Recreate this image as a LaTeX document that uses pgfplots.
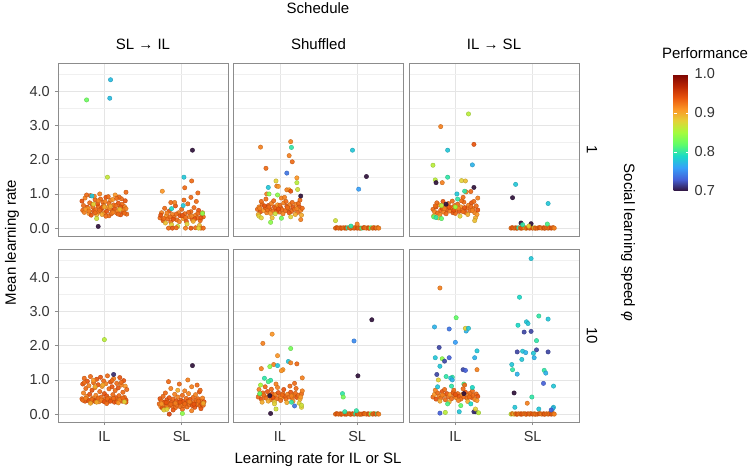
\documentclass[border=0pt]{standalone}
\usepackage{pgfplots}
\pgfplotsset{compat=1.18}
\usepackage{fontspec}
\setmainfont{Liberation Sans}
\pgfplotsset{
  colormap={turbo}{rgb255=(48,18,59) rgb255=(69,97,216) rgb255=(55,160,250) rgb255=(26,218,199) rgb255=(96,253,103) rgb255=(164,252,60) rgb255=(228,210,55) rgb255=(252,150,38) rgb255=(232,84,13) rgb255=(184,36,3) rgb255=(122,4,3)},
  panel/.style={
    scale only axis, width=170pt, height=173pt, anchor=south west,
    xmin=0.4, xmax=2.6, ymin=-0.23, ymax=4.83,
    xtick={1,2}, xticklabels={IL,SL},
    ytick={0,1,2,3,4}, yticklabels={0.0,1.0,2.0,3.0,4.0},
    minor ytick={0.5,1.5,2.5,3.5,4.5},
    grid=both,
    major grid style={draw=black!10, line width=0.6pt},
    minor grid style={draw=black!6, line width=0.35pt},
    axis line style={draw=black!45, line width=0.6pt},
    tick align=outside, major tick length=3pt, minor tick length=0pt,
    tick pos=left,
    tick style={draw=black!45, line width=0.6pt},
    tick label style={font=\fontsize{14.5}{16}\selectfont, text=black!80},
    xticklabel style={yshift=-1pt},
    point meta min=0.7, point meta max=1.0,
    colormap name=turbo,
  },
  noy/.style={yticklabels={}, ytick style={draw=none}},
  nox/.style={xticklabels={}, xtick style={draw=none}},
  pts/.style={scatter, only marks, mark=*, mark size=2.2pt, scatter src=explicit, opacity=0.92},
}
\begin{document}
\begin{tikzpicture}
\path[use as bounding box] (0,0) rectangle (749pt,474pt);
\fontsize{15}{18}\selectfont

% ---------- top left: SL -> IL, phi = 1
\begin{axis}[panel, nox, at={(58pt,238pt)}]
\addplot[pts] table[meta=c]{
x y c
0.72 0.52 0.93
0.75 0.88 0.92
0.78 0.61 0.94
0.80 0.43 0.91
0.82 0.95 0.93
0.84 0.70 0.92
0.86 0.50 0.94
0.88 0.83 0.93
0.90 0.39 0.90
0.92 0.64 0.93
0.94 1.00 0.92
0.96 0.55 0.94
0.98 0.76 0.93
1.00 0.45 0.92
1.02 0.90 0.94
1.04 0.60 0.91
1.06 0.36 0.93
1.08 0.81 0.92
1.10 0.52 0.94
1.12 0.68 0.93
1.14 0.97 0.91
1.16 0.44 0.93
1.18 0.73 0.94
1.20 0.58 0.92
1.22 0.86 0.93
1.24 0.48 0.94
1.26 0.63 0.92
1.28 1.05 0.93
1.29 0.41 0.93
0.71 0.79 0.94
0.74 0.46 0.92
0.77 0.97 0.93
0.79 0.57 0.91
0.81 0.74 0.93
0.83 0.38 0.94
0.85 0.62 0.93
0.87 0.93 0.92
0.89 0.54 0.93
0.91 0.71 0.94
0.93 0.47 0.92
0.95 0.85 0.93
0.97 0.40 0.90
0.99 0.66 0.93
1.01 0.78 0.92
1.03 0.49 0.94
1.05 0.92 0.93
1.07 0.58 0.92
1.09 0.42 0.93
1.11 0.84 0.91
1.13 0.56 0.94
1.15 0.66 0.93
1.17 0.50 0.92
1.19 0.91 0.93
1.21 0.39 0.94
1.23 0.70 0.93
1.25 0.54 0.92
1.27 0.80 0.94
0.73 0.66 0.93
0.76 0.55 0.91
0.88 0.45 0.93
0.92 0.80 0.92
0.97 0.60 0.94
1.02 0.35 0.93
1.06 0.72 0.93
1.11 0.46 0.92
1.16 0.87 0.93
1.21 0.62 0.94
1.26 0.44 0.93
0.80 0.50 0.92
0.94 0.52 0.93
1.08 0.64 0.90
1.18 0.41 0.93
1.28 0.57 0.92
0.77 3.75 0.826
1.08 4.34 0.775
1.07 3.80 0.775
1.04 1.49 0.865
0.92 0.05 0.70
0.84 0.94 0.78
0.90 0.28 0.87
0.86 0.70 0.88
1.20 0.55 0.89
1.00 0.62 0.90
1.72 0.30 0.93
1.74 0.45 0.92
1.76 0.22 0.94
1.78 0.58 0.93
1.80 0.35 0.91
1.82 0.27 0.93
1.84 0.50 0.94
1.86 0.18 0.93
1.88 0.40 0.92
1.90 0.31 0.93
1.92 0.65 0.94
1.94 0.24 0.93
1.96 0.45 0.92
1.98 0.36 0.94
2.00 0.55 0.93
2.02 0.28 0.91
2.04 0.42 0.93
2.06 0.20 0.94
2.08 0.71 0.93
2.10 0.33 0.92
2.12 0.48 0.93
2.14 0.25 0.94
2.16 0.60 0.93
2.18 0.38 0.92
2.20 0.30 0.93
2.22 0.52 0.94
2.24 0.22 0.93
2.26 0.40 0.92
2.28 0.33 0.93
1.73 0.38 0.94
1.77 0.28 0.93
1.81 0.44 0.92
1.85 0.33 0.93
1.89 0.26 0.94
1.93 0.41 0.93
1.97 0.19 0.92
2.01 0.37 0.94
2.05 0.31 0.93
2.09 0.46 0.93
2.13 0.35 0.92
2.17 0.27 0.94
2.21 0.43 0.93
2.25 0.30 0.94
2.27 0.45 0.91
1.79 0.15 0.89
1.87 0.10 0.88
1.95 0.05 0.87
2.07 0.12 0.88
2.15 0.20 0.90
2.23 0.08 0.89
2.03 0.82 0.93
1.91 0.75 0.92
2.19 0.78 0.93
1.83 0.00 0.93
1.88 0.00 0.94
1.93 0.01 0.93
2.05 0.00 0.92
2.12 0.00 0.94
2.18 0.01 0.93
2.25 0.00 0.92
2.28 0.00 0.93
2.22 0.00 0.88
2.14 2.28 0.70
2.03 1.49 0.78
2.13 1.38 0.93
1.75 1.08 0.91
2.04 1.18 0.93
2.12 0.90 0.93
2.21 1.03 0.93
2.02 0.66 0.78
1.87 0.57 0.79
2.27 0.43 0.84
1.86 0.75 0.93
};
\end{axis}

% ---------- top middle: Shuffled, phi = 1
\begin{axis}[panel, nox, noy, at={(233.5pt,238pt)}]
\addplot[pts] table[meta=c]{
x y c
0.71 0.55 0.93
0.73 0.62 0.92
0.75 0.48 0.94
0.77 0.70 0.93
0.79 0.52 0.91
0.81 0.60 0.93
0.83 0.45 0.92
0.85 0.66 0.94
0.87 0.56 0.93
0.89 0.72 0.92
0.91 0.50 0.93
0.93 0.62 0.94
0.95 0.58 0.93
0.97 0.68 0.91
0.99 0.47 0.93
1.01 0.60 0.94
1.03 0.54 0.93
1.05 0.74 0.92
1.07 0.51 0.93
1.09 0.64 0.94
1.11 0.57 0.93
1.13 0.69 0.92
1.15 0.49 0.93
1.17 0.61 0.94
1.19 0.55 0.93
1.21 0.70 0.92
1.23 0.46 0.93
1.25 0.63 0.94
1.27 0.52 0.92
1.29 0.58 0.93
0.72 0.40 0.90
0.76 0.78 0.93
0.80 0.65 0.94
0.84 0.53 0.93
0.88 0.43 0.91
0.92 0.80 0.93
0.96 0.50 0.94
1.00 0.67 0.93
1.04 0.42 0.92
1.08 0.78 0.93
1.12 0.45 0.94
1.16 0.75 0.93
1.20 0.40 0.90
1.24 0.72 0.93
1.28 0.38 0.90
0.74 0.58 0.92
0.86 0.62 0.93
0.98 0.56 0.94
1.10 0.60 0.93
1.22 0.57 0.92
0.82 0.85 0.93
1.02 0.88 0.92
1.26 0.82 0.93
0.90 0.30 0.89
1.14 0.33 0.88
1.27 0.25 0.92
0.94 0.42 0.87
0.75 2.37 0.92
1.14 2.53 0.92
1.15 2.36 0.80
1.12 2.12 0.92
1.16 1.94 0.93
0.82 1.75 0.93
1.09 1.61 0.74
0.95 1.38 0.88
1.22 1.47 0.91
0.85 1.19 0.78
0.96 1.23 0.92
0.98 1.22 0.91
1.22 1.33 0.86
1.23 1.13 0.87
1.09 1.12 0.92
1.12 1.12 0.91
1.27 0.94 0.70
1.14 1.08 0.94
0.83 1.00 0.92
0.86 1.00 0.84
0.97 0.97 0.84
1.06 0.90 0.92
1.02 0.29 0.83
0.88 0.17 0.84
0.73 0.35 0.88
0.76 0.30 0.88
1.72 0.00 0.93
1.73 0.01 0.92
1.74 0.01 0.94
1.76 0.00 0.93
1.78 0.01 0.93
1.79 0.00 0.92
1.80 0.00 0.94
1.82 0.01 0.93
1.84 0.00 0.92
1.85 0.01 0.93
1.86 0.00 0.94
1.88 0.01 0.80
1.90 0.01 0.93
1.91 0.00 0.92
1.92 0.00 0.93
1.94 0.01 0.94
1.96 0.00 0.93
1.97 0.01 0.92
1.98 0.01 0.93
2.00 0.00 0.94
2.02 0.01 0.93
2.03 0.00 0.92
2.04 0.00 0.93
2.06 0.00 0.81
2.08 0.01 0.93
2.09 0.01 0.94
2.10 0.01 0.93
2.12 0.00 0.92
2.14 0.01 0.93
2.15 0.00 0.94
2.16 0.00 0.93
2.18 0.01 0.82
2.20 0.00 0.93
2.21 0.01 0.92
2.22 0.01 0.93
2.24 0.00 0.94
2.26 0.01 0.90
2.27 0.01 0.93
2.28 0.00 0.92
1.94 2.28 0.78
2.12 1.51 0.70
2.02 1.14 0.76
1.72 0.22 0.87
2.00 0.12 0.92
1.92 0.06 0.80
};
\end{axis}

% ---------- top right: IL -> SL, phi = 1
\begin{axis}[panel, nox, noy, at={(409pt,238pt)},
  colorbar,
  colorbar style={
    at={(parent axis.north east)}, anchor=north west, xshift=86pt, yshift=-11pt,
    width=16pt, height=117pt,
    ytick={0.7,0.8,0.9,1.0}, yticklabels={0.7,0.8,0.9,1.0},
    axis line style={draw=none},
    tick style={draw=white, line width=0.8pt},
    major tick length=3.5pt, tick align=inside, axis on top,
    ytick pos=both, yticklabel pos=right,
    yticklabel style={font=\fontsize{14.5}{16}\selectfont, text=black!80},
  }]
\addplot[pts] table[meta=c]{
x y c
0.71 0.55 0.93
0.73 0.48 0.92
0.75 0.62 0.94
0.77 0.44 0.93
0.79 0.68 0.91
0.81 0.52 0.93
0.83 0.58 0.94
0.85 0.47 0.92
0.87 0.64 0.93
0.89 0.54 0.94
0.91 0.72 0.93
0.93 0.50 0.92
0.95 0.60 0.93
0.97 0.45 0.94
0.99 0.66 0.93
1.01 0.56 0.92
1.03 0.70 0.93
1.05 0.49 0.94
1.07 0.62 0.91
1.09 0.53 0.93
1.11 0.76 0.93
1.13 0.46 0.94
1.15 0.59 0.93
1.17 0.67 0.92
1.19 0.51 0.93
1.21 0.74 0.94
1.23 0.57 0.93
1.25 0.45 0.92
1.27 0.65 0.93
1.29 0.53 0.94
0.72 0.36 0.90
0.76 0.74 0.93
0.80 0.40 0.92
0.84 0.78 0.94
0.88 0.42 0.93
0.92 0.61 0.94
0.96 0.79 0.93
1.00 0.43 0.93
1.04 0.58 0.92
1.08 0.80 0.93
1.12 0.60 0.94
1.16 0.40 0.90
1.20 0.63 0.93
1.24 0.78 0.93
1.28 0.40 0.91
0.74 0.65 0.93
0.86 0.57 0.92
0.98 0.52 0.94
1.10 0.48 0.93
1.22 0.52 0.92
0.78 0.30 0.89
1.06 0.35 0.88
1.26 0.30 0.90
0.82 0.66 0.86
0.72 0.33 0.82
0.75 0.31 0.80
0.82 0.28 0.82
1.25 0.22 0.89
1.17 3.34 0.86
0.81 2.97 0.92
1.24 2.45 0.94
0.90 2.28 0.78
0.71 1.84 0.86
1.22 1.85 0.77
0.90 1.49 0.80
1.08 1.39 0.88
1.13 1.38 0.89
0.74 1.41 0.86
0.75 1.33 0.70
0.83 1.33 0.92
1.24 1.19 0.70
1.14 1.06 0.92
1.20 1.07 0.93
1.12 1.08 0.80
1.02 1.00 0.78
1.10 0.90 0.93
1.29 0.88 0.92
1.03 0.85 0.80
0.88 0.70 0.70
1.00 0.62 0.85
1.72 0.00 0.93
1.73 0.01 0.92
1.74 0.01 0.94
1.76 0.00 0.93
1.78 0.01 0.93
1.79 0.00 0.92
1.80 0.00 0.94
1.82 0.01 0.80
1.84 0.00 0.92
1.85 0.01 0.93
1.86 0.00 0.94
1.88 0.01 0.93
1.90 0.01 0.93
1.91 0.00 0.88
1.92 0.00 0.93
1.94 0.01 0.94
1.96 0.00 0.93
1.97 0.01 0.92
1.98 0.01 0.93
2.00 0.00 0.94
2.02 0.01 0.87
2.03 0.00 0.92
2.04 0.00 0.93
2.06 0.00 0.93
2.08 0.01 0.93
2.09 0.01 0.94
2.10 0.01 0.93
2.12 0.00 0.92
2.14 0.01 0.93
2.15 0.00 0.94
2.16 0.00 0.93
2.18 0.01 0.93
2.20 0.00 0.93
2.21 0.01 0.92
2.22 0.01 0.93
2.24 0.00 0.94
2.26 0.01 0.93
2.27 0.01 0.93
2.28 0.00 0.92
1.78 1.28 0.78
1.74 0.89 0.70
2.20 0.72 0.78
1.85 0.15 0.70
1.98 0.13 0.70
1.87 0.10 0.80
2.19 0.12 0.81
1.95 0.06 0.88
};
\end{axis}

% ---------- bottom left: SL -> IL, phi = 10
\begin{axis}[panel, at={(58pt,52pt)}]
\addplot[pts] table[meta=c]{
x y c
0.71 0.45 0.93
0.72 0.88 0.94
0.73 0.62 0.92
0.74 1.05 0.93
0.75 0.38 0.94
0.76 0.75 0.93
0.77 0.52 0.92
0.78 0.96 0.94
0.79 0.41 0.93
0.80 0.83 0.92
0.81 0.58 0.94
0.82 1.10 0.93
0.83 0.35 0.93
0.84 0.70 0.94
0.85 0.47 0.92
0.86 0.92 0.93
0.87 0.40 0.94
0.88 0.78 0.93
0.89 0.55 0.92
0.90 1.02 0.94
0.91 0.44 0.93
0.92 0.86 0.94
0.93 0.36 0.92
0.94 0.66 0.93
0.95 1.08 0.94
0.96 0.50 0.93
0.97 0.81 0.91
0.98 0.39 0.94
0.99 0.97 0.93
1.00 0.60 0.94
1.01 0.43 0.93
1.02 0.89 0.92
1.03 0.53 0.94
1.04 1.12 0.93
1.05 0.37 0.94
1.06 0.74 0.93
1.07 0.46 0.92
1.08 0.94 0.94
1.09 0.42 0.93
1.10 0.80 0.94
1.11 0.57 0.93
1.12 1.04 0.92
1.13 0.35 0.94
1.14 0.69 0.93
1.15 0.48 0.94
1.16 0.90 0.93
1.17 0.40 0.92
1.18 0.77 0.94
1.19 0.54 0.93
1.20 1.07 0.94
1.21 0.44 0.93
1.22 0.85 0.92
1.23 0.38 0.94
1.24 0.64 0.93
1.25 0.98 0.94
1.26 0.49 0.93
1.27 0.82 0.91
1.28 0.41 0.94
1.29 0.72 0.93
0.72 0.41 0.93
0.76 0.46 0.92
0.80 0.39 0.94
0.84 0.43 0.93
0.88 0.37 0.94
0.92 0.47 0.93
0.96 0.41 0.92
1.00 0.36 0.94
1.04 0.45 0.93
1.08 0.38 0.94
1.12 0.46 0.93
1.16 0.36 0.94
1.20 0.42 0.92
1.24 0.47 0.93
1.28 0.35 0.94
0.74 0.92 0.93
0.86 0.99 0.91
0.98 0.85 0.90
1.10 0.98 0.93
1.22 0.93 0.93
0.82 0.32 0.90
1.18 0.33 0.91
1.03 0.31 0.93
1.00 2.18 0.86
1.12 1.16 0.71
1.26 0.36 0.88
0.88 0.80 0.90
0.90 0.35 0.90
1.71 0.30 0.93
1.72 0.45 0.94
1.73 0.22 0.92
1.74 0.38 0.93
1.75 0.18 0.94
1.76 0.52 0.93
1.77 0.28 0.92
1.78 0.35 0.94
1.79 0.62 0.93
1.80 0.25 0.93
1.81 0.42 0.94
1.82 0.20 0.92
1.83 0.33 0.93
1.84 0.48 0.94
1.85 0.27 0.93
1.86 0.75 0.92
1.87 0.36 0.94
1.88 0.23 0.93
1.89 0.44 0.93
1.90 0.30 0.94
1.91 0.58 0.92
1.92 0.19 0.93
1.93 0.39 0.94
1.94 0.26 0.93
1.95 0.50 0.92
1.96 0.34 0.94
1.97 0.88 0.93
1.98 0.22 0.93
1.99 0.41 0.94
2.00 0.29 0.92
2.01 0.55 0.93
2.02 0.37 0.94
2.03 0.24 0.93
2.04 0.68 0.92
2.05 0.32 0.94
2.06 0.46 0.93
2.07 0.21 0.93
2.08 0.38 0.94
2.09 0.60 0.92
2.10 0.27 0.93
2.11 0.43 0.94
2.12 0.33 0.93
2.13 0.80 0.92
2.14 0.25 0.94
2.15 0.49 0.93
2.16 0.35 0.93
2.17 0.20 0.94
2.18 0.57 0.92
2.19 0.40 0.93
2.20 0.28 0.94
2.21 0.45 0.93
2.22 0.31 0.92
2.23 0.65 0.94
2.24 0.24 0.93
2.25 0.38 0.93
2.26 0.30 0.94
2.27 0.47 0.92
2.28 0.26 0.93
2.29 0.36 0.94
1.74 0.30 0.91
1.80 0.34 0.94
1.86 0.29 0.93
1.92 0.32 0.92
1.98 0.35 0.94
2.04 0.30 0.93
2.10 0.36 0.92
2.16 0.29 0.94
2.22 0.38 0.93
2.28 0.32 0.90
1.77 0.15 0.93
1.89 0.12 0.94
2.01 0.14 0.93
2.13 0.10 0.92
2.25 0.16 0.94
1.83 0.95 0.93
2.08 1.00 0.92
1.95 0.70 0.90
2.20 0.85 0.93
2.24 0.70 0.93
2.14 1.42 0.70
1.77 0.12 0.88
1.81 0.14 0.88
2.01 0.02 0.84
1.84 0.00 0.95
};
\end{axis}

% ---------- bottom middle: Shuffled, phi = 10
\begin{axis}[panel, noy, at={(233.5pt,52pt)}]
\addplot[pts] table[meta=c]{
x y c
0.72 0.50 0.93
0.74 0.58 0.92
0.76 0.44 0.94
0.78 0.62 0.93
0.80 0.53 0.91
0.82 0.47 0.93
0.84 0.66 0.94
0.86 0.55 0.92
0.88 0.42 0.93
0.90 0.60 0.94
0.92 0.51 0.93
0.94 0.57 0.92
0.96 0.45 0.93
0.98 0.63 0.94
1.00 0.53 0.93
1.02 0.48 0.91
1.04 0.60 0.93
1.06 0.52 0.94
1.08 0.44 0.93
1.10 0.58 0.92
1.12 0.50 0.93
1.14 0.64 0.94
1.16 0.47 0.93
1.18 0.56 0.92
1.20 0.61 0.93
1.22 0.49 0.94
1.24 0.55 0.93
1.26 0.43 0.90
1.28 0.59 0.93
0.73 0.72 0.92
0.77 0.35 0.90
0.81 0.80 0.93
0.85 0.38 0.90
0.89 0.73 0.93
0.93 0.36 0.89
0.97 0.78 0.92
1.01 0.40 0.93
1.05 0.72 0.94
1.09 0.34 0.90
1.13 0.82 0.93
1.17 0.38 0.91
1.21 0.75 0.93
1.25 0.32 0.88
1.29 0.68 0.92
0.79 0.56 0.93
0.91 0.48 0.94
1.03 0.56 0.93
1.15 0.53 0.92
1.27 0.50 0.91
0.75 0.85 0.85
0.95 0.88 0.92
1.19 0.90 0.93
0.90 2.34 0.91
0.78 2.07 0.92
1.14 1.92 0.83
0.97 1.71 0.91
1.11 1.54 0.78
1.14 1.50 0.92
1.22 1.47 0.93
0.92 1.45 0.92
0.97 1.42 0.78
0.87 1.39 0.84
1.04 1.30 0.91
1.02 1.27 0.91
0.76 1.33 0.92
1.29 1.06 0.92
0.80 1.05 0.80
0.88 0.99 0.80
0.85 0.95 0.81
0.87 0.54 0.70
0.88 0.02 0.70
1.19 0.24 0.74
1.15 0.35 0.80
0.95 0.15 0.87
0.93 0.30 0.88
1.28 0.20 0.88
1.28 0.26 0.87
0.74 0.60 0.82
1.72 0.00 0.93
1.73 0.01 0.92
1.74 0.01 0.94
1.76 0.00 0.93
1.78 0.01 0.93
1.79 0.00 0.92
1.80 0.00 0.94
1.82 0.01 0.93
1.84 0.00 0.92
1.85 0.01 0.93
1.86 0.00 0.94
1.88 0.01 0.93
1.90 0.01 0.93
1.91 0.00 0.92
1.92 0.00 0.93
1.94 0.01 0.94
1.96 0.00 0.93
1.97 0.01 0.92
1.98 0.01 0.80
2.00 0.00 0.94
2.02 0.01 0.93
2.03 0.00 0.92
2.04 0.00 0.93
2.06 0.00 0.93
2.08 0.01 0.93
2.09 0.01 0.94
2.10 0.01 0.93
2.12 0.00 0.92
2.14 0.01 0.93
2.15 0.00 0.94
2.16 0.00 0.93
2.18 0.01 0.83
2.20 0.00 0.93
2.21 0.01 0.92
2.22 0.01 0.93
2.24 0.00 0.94
2.26 0.01 0.81
2.27 0.01 0.93
2.28 0.00 0.92
2.19 2.76 0.70
1.96 2.14 0.75
2.01 1.12 0.70
1.81 0.60 0.80
1.82 0.50 0.83
1.99 0.10 0.80
1.84 0.07 0.80
};
\end{axis}

% ---------- bottom right: IL -> SL, phi = 10
\begin{axis}[panel, noy, at={(409pt,52pt)}]
\addplot[pts] table[meta=c]{
x y c
0.71 0.50 0.93
0.73 0.58 0.91
0.75 0.44 0.94
0.77 0.62 0.93
0.79 0.52 0.92
0.81 0.47 0.93
0.83 0.66 0.94
0.85 0.55 0.92
0.87 0.42 0.93
0.89 0.60 0.94
0.91 0.51 0.93
0.93 0.57 0.91
0.95 0.45 0.93
0.97 0.63 0.94
0.99 0.53 0.93
1.01 0.48 0.92
1.03 0.60 0.93
1.05 0.52 0.94
1.07 0.44 0.93
1.09 0.58 0.91
1.11 0.50 0.93
1.13 0.64 0.94
1.15 0.47 0.93
1.17 0.56 0.92
1.19 0.61 0.93
1.21 0.49 0.94
1.23 0.55 0.93
1.25 0.43 0.92
1.27 0.59 0.93
1.29 0.52 0.94
0.74 0.70 0.92
0.80 0.38 0.90
0.86 0.72 0.93
0.92 0.36 0.90
0.98 0.70 0.93
1.04 0.40 0.92
1.10 0.74 0.93
1.16 0.37 0.90
1.22 0.68 0.93
1.28 0.40 0.91
0.83 0.56 0.92
1.00 0.57 0.94
1.18 0.50 0.93
0.80 3.69 0.92
1.01 2.82 0.82
0.73 2.55 0.77
0.92 2.49 0.74
1.14 2.43 0.77
1.13 2.51 0.88
1.17 2.51 0.78
1.00 2.10 0.76
0.79 1.95 0.72
1.28 1.85 0.78
0.74 1.65 0.78
0.92 1.65 0.73
0.83 1.62 0.84
0.86 1.55 0.72
1.25 1.65 0.77
0.80 1.40 0.78
1.10 1.30 0.72
1.13 1.28 0.73
1.28 1.30 0.92
0.76 1.16 0.72
0.88 1.10 0.80
0.96 1.08 0.80
0.78 1.00 0.88
0.94 1.05 0.78
0.96 1.00 0.77
0.95 0.82 0.80
1.11 0.88 0.81
1.22 0.78 0.79
1.12 0.85 0.93
1.11 0.60 0.70
0.80 0.03 0.73
1.26 0.07 0.71
1.24 0.07 0.71
1.30 0.04 0.86
1.05 0.07 0.78
0.87 0.05 0.86
1.07 0.25 0.82
0.77 0.80 0.78
1.20 0.30 0.79
0.90 0.30 0.81
1.26 0.15 0.88
1.72 0.00 0.86
1.73 0.01 0.88
1.74 0.01 0.93
1.76 0.00 0.89
1.78 0.01 0.93
1.79 0.00 0.92
1.80 0.00 0.94
1.82 0.01 0.93
1.84 0.00 0.92
1.85 0.01 0.93
1.86 0.00 0.94
1.88 0.01 0.93
1.90 0.01 0.93
1.91 0.00 0.92
1.92 0.00 0.93
1.94 0.01 0.94
1.96 0.00 0.93
1.97 0.01 0.92
1.98 0.01 0.93
2.00 0.00 0.94
2.02 0.01 0.93
2.03 0.00 0.92
2.04 0.00 0.93
2.06 0.00 0.93
2.08 0.01 0.93
2.09 0.01 0.94
2.10 0.01 0.93
2.12 0.00 0.92
2.14 0.01 0.93
2.15 0.00 0.94
2.16 0.00 0.93
2.18 0.01 0.93
2.20 0.00 0.93
2.21 0.01 0.92
2.22 0.01 0.93
2.24 0.00 0.94
2.26 0.01 0.93
2.27 0.01 0.93
2.28 0.00 0.92
1.98 4.55 0.78
1.83 3.42 0.79
2.08 2.87 0.80
2.20 2.78 0.78
1.92 2.70 0.78
1.94 2.65 0.78
1.81 2.60 0.79
1.89 2.40 0.72
1.98 2.42 0.72
2.05 2.15 0.80
1.80 1.82 0.72
1.87 1.84 0.78
1.91 1.80 0.77
2.05 1.88 0.72
2.01 1.78 0.78
2.02 1.65 0.77
2.20 1.82 0.72
1.86 1.60 0.78
1.73 1.45 0.78
1.74 1.30 0.80
1.80 1.17 0.77
2.15 1.28 0.80
2.17 1.20 0.77
2.14 0.90 0.73
2.27 0.82 0.78
1.76 0.62 0.70
1.99 0.50 0.80
1.93 0.32 0.92
1.77 0.20 0.78
2.08 0.15 0.78
2.27 0.20 0.78
2.26 0.16 0.77
2.24 0.12 0.73
};
\end{axis}

% ---------- texts
\node at (318pt,466pt) {Schedule};
\node at (143pt,430pt) {SL → IL};
\node at (318.5pt,430pt) {Shuffled};
\node at (494pt,430pt) {IL → SL};
\node[rotate=-90] at (592pt,324.5pt) {1};
\node[rotate=-90] at (592pt,138.5pt) {10};
\node[rotate=-90] at (628pt,231.5pt) {Social learning speed \textit{φ}};
\node[rotate=90] at (12pt,231.5pt) {Mean learning rate};
\node at (318pt,14pt) {Learning rate for IL or SL};
\node at (705pt,421pt) {Performance};
\end{tikzpicture}
\end{document}
